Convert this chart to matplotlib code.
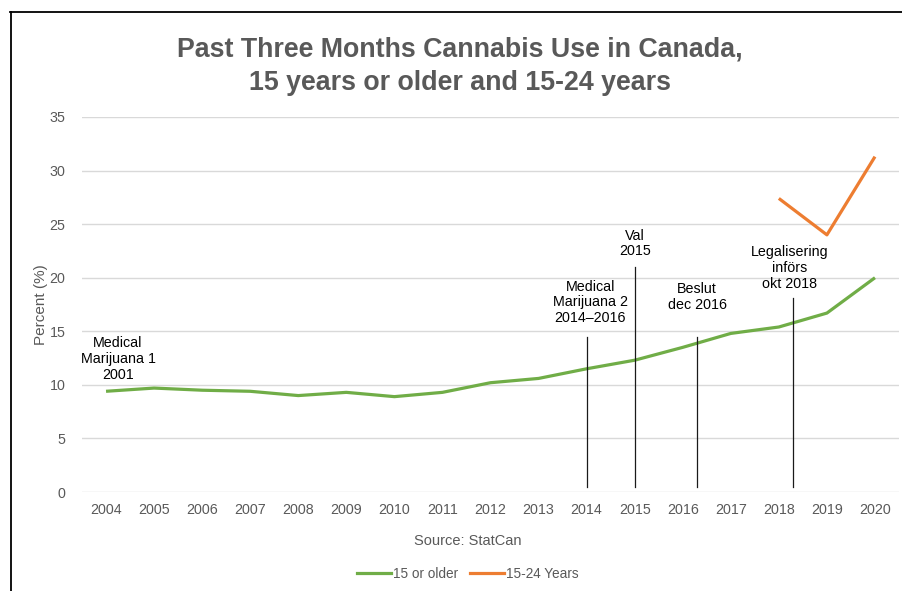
import matplotlib
matplotlib.use("Agg")
import matplotlib.pyplot as plt
from matplotlib.lines import Line2D

years = [str(y) for y in range(2004, 2021)]
older15 = [9.4, 9.7, 9.5, 9.4, 9.0, 9.3, 8.9, 9.3, 10.2, 10.6, 11.5, 12.3, 13.5, 14.8, 15.4, 16.7, 20.0]
youth_years = ["2018", "2019", "2020"]
youth = [27.4, 24.0, 31.3]

events = [
    ("Medical\nMarijuana 1\n2001", 0.25, 12.4, None, None),
    ("Medical\nMarijuana 2\n2014\u20132016", 10.08, 17.7, 10.0, 14.5),
    ("Val\n2015", 11.0, 23.2, 11.0, 21.0),
    ("Beslut\ndec 2016", 12.3, 18.2, 12.3, 14.5),
    ("Legalisering\ninf\u00f6rs\nokt 2018", 14.22, 20.9, 14.3, 18.1),
]

plt.rcParams['font.family'] = ['Liberation Sans', 'DejaVu Sans']
gray = '#595959'
green = '#70AD47'
orange = '#ED7D31'

fig = plt.figure(figsize=(9.02, 5.91), dpi=100)
ax = fig.add_axes([82/902, 1-492/591, (899-82)/902, (492-117)/591])

x = list(range(len(years)))
ax.plot(x, older15, color=green, lw=2.3, solid_capstyle='butt', zorder=3)
xi = [years.index(y) for y in youth_years]
ax.plot(xi, youth, color=orange, lw=2.3, solid_capstyle='butt', zorder=3)

ax.set_xlim(-0.5, len(years) - 0.5)
ax.set_ylim(0, 35)
ax.set_yticks(range(0, 36, 5))
ax.set_xticks(x)
ax.set_xticklabels(years)
ax.grid(axis='y', color='#D9D9D9', lw=1)
ax.set_axisbelow(True)
for s in ax.spines.values():
    s.set_visible(False)
ax.tick_params(length=0, colors=gray, labelsize=10.3, pad=8)
ax.tick_params(axis='y', pad=12)
ax.set_ylabel('Percent (%)', color=gray, fontsize=11, labelpad=1)

for txt, tx, ty, lx, ltop in events:
    ax.text(tx, ty, txt, ha='center', va='center', fontsize=10.3, color='black', linespacing=1.15)
    if lx is not None:
        ax.plot([lx, lx], [0.45, ltop], color='#1a1a1a', lw=0.9, zorder=4)

fig.text(460/902, 1-66.5/591, 'Past Three Months Cannabis Use in Canada,\n15 years or older and 15-24 years',
         ha='center', va='center', fontsize=19.3, fontweight='bold', color=gray, linespacing=1.4)
fig.text(468/902, 1-541/591, 'Source: StatCan', ha='center', va='center', fontsize=10.5, color=gray)

handles = [Line2D([], [], color=green, lw=2.3), Line2D([], [], color=orange, lw=2.3)]
fig.legend(handles, ['15 or older', '15-24 Years'], loc='center', bbox_to_anchor=(468/902, 1-574/591),
           ncol=2, frameon=False, fontsize=9.8, labelcolor=gray, handlelength=2.5, handletextpad=0.15,
           columnspacing=0.9)

# figure frame (top and left edges)
fig.add_artist(Line2D([10.5/902, 10.5/902], [0, 1-12/591], color='black', lw=1.3, transform=fig.transFigure))
fig.add_artist(Line2D([10/902, 1], [1-12/591, 1-12/591], color='black', lw=1.3, transform=fig.transFigure))

fig.savefig('out.png', dpi=100)
